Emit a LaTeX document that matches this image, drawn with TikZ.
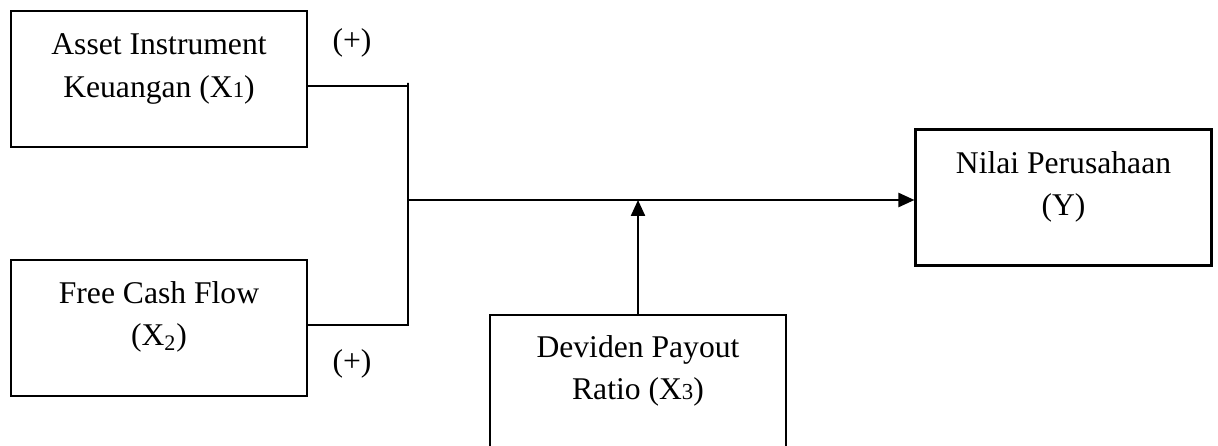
\documentclass[tikz,border=0pt]{standalone}
\usepackage{fontspec}
\setmainfont{Liberation Serif}
\usepackage{tikz}
\usetikzlibrary{arrows.meta, positioning, calc}
\definecolor{mydark}{RGB}{0,0,0}
\newcommand{\smallidx}[1]{{\fontsize{13}{13}\selectfont #1}}
\tikzset{
  varbox/.style={rectangle, draw=mydark, fill=white,
    minimum width=5.92cm, minimum height=2.72cm, line width=1.2pt},
  vartext/.style={align=center, font=\fontsize{18}{24}\selectfont,
    inner sep=0pt},
  signtext/.style={font=\fontsize{18}{24}\selectfont, inner sep=0pt},
  arrow/.style={-{Triangle[length=0.32cm, width=0.28cm]}, line width=1.3pt, color=mydark},
  line/.style={line width=1pt, color=mydark}
}
\begin{document}
\begin{tikzpicture}[x=0.02cm, y=-0.02cm]
  \useasboundingbox (0,0) rectangle (1218,446);
  % variable boxes
  \node[varbox] (x1) at (159,79) {};
  \node[varbox] (x2) at (159,328) {};
  \node[varbox] (y) at (1063.5,197.5) {};
  \node[varbox] (x3) at (638,383) {};
  % box texts
  \node[vartext] (x1txt) at (159,69) {Asset Instrument\\Keuangan (X\smallidx{1})};
  \node[vartext] (x2txt) at (159,317) {Free Cash Flow\\(X\textsubscript{2})};
  \node[vartext] (ytxt) at (1063.5,187) {Nilai Perusahaan\\(Y)};
  \node[vartext] (x3txt) at (638,371) {Deviden Payout\\Ratio (X\smallidx{3})};
  % signs
  \node[signtext] (plus1) at (352,43) {(+)};
  \node[signtext] (plus2) at (352,364) {(+)};
  % junction
  \coordinate (jtop) at (408,86);
  \coordinate (jbot) at (408,325);
  \coordinate (jmid) at (408,200);
  \draw[line] (x1.east |- jtop) -- (jtop) -- ([yshift=0.06cm]jtop) -- (jbot) -- (x2.east |- jbot);
  \draw[arrow] (jmid) -- (y.west |- jmid);
  \draw[arrow] (x3.north) -- (x3.north |- jmid);
\end{tikzpicture}
\end{document}
